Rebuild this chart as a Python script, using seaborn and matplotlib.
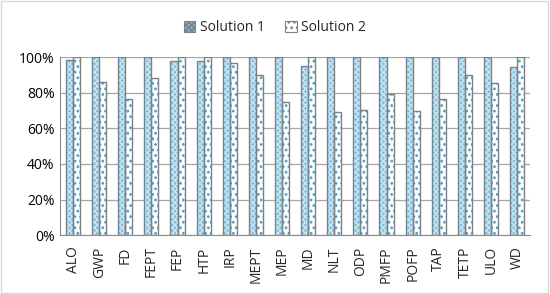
import numpy as np
import pandas as pd
import matplotlib
matplotlib.use('Agg')
import matplotlib.pyplot as plt
import seaborn as sns
from matplotlib.patches import Rectangle, Patch
from matplotlib.ticker import PercentFormatter

categories = ['ALO', 'GWP', 'FD', 'FEPT', 'FEP', 'HTP', 'IRP', 'MEPT', 'MEP',
              'MD', 'NLT', 'ODP', 'PMFP', 'POFP', 'TAP', 'TETP', 'ULO', 'WD']
solution1 = [98.5, 100, 100, 100, 97.7, 97.6, 100, 100, 100,
             95.1, 100, 100, 100, 100, 100, 100, 100, 94.2]
solution2 = [100, 86.1, 76.7, 88.2, 100, 100, 96.6, 89.9, 74.9,
             100, 69.1, 70.0, 79.2, 69.8, 76.2, 90.0, 85.7, 100]
series = ['Solution 1', 'Solution 2']

df = pd.DataFrame({
    'category': categories * 2,
    'value': solution1 + solution2,
    'series': [series[0]] * len(categories) + [series[1]] * len(categories),
})

sns.set_style('white')
plt.rcParams['font.family'] = ['Open Sans', 'DejaVu Sans']
plt.rcParams['hatch.linewidth'] = 1.2

fig = plt.figure(figsize=(5.5, 2.94), dpi=100)
ax = fig.add_axes([0.109, 0.2, 0.855, 0.606])

face = {'Solution 1': '#6cc0ea', 'Solution 2': 'white'}
hatch = {'Solution 1': 'xxxxxx', 'Solution 2': '...'}
hcol = {'Solution 1': '#bfe4f6', 'Solution 2': '#3aa6dd'}
outline = '#808080'

sns.barplot(data=df, x='category', y='value', hue='series', order=categories,
            hue_order=series, palette=face, width=0.54, legend=False, ax=ax,
            zorder=2)

for cont, s in zip(ax.containers, series):
    for p in cont:
        p.set_hatch(hatch[s])
        p.set_edgecolor(hcol[s])
        p.set_linewidth(0)
        ax.add_patch(Rectangle(p.get_xy(), p.get_width(), p.get_height(),
                               fill=False, edgecolor=outline, lw=1.0, zorder=3))

ax.set_ylim(0, 100)
ax.set_xlim(-0.5, len(categories) - 0.5)
ax.set_yticks(np.arange(0, 101, 20))
ax.yaxis.set_major_formatter(PercentFormatter(decimals=0))
ax.grid(axis='y', color='#a6a6a6', lw=0.9, zorder=0)
ax.set_axisbelow(True)
ax.set_xlabel('')
ax.set_ylabel('')
for side in ['top', 'right']:
    ax.spines[side].set_visible(False)
ax.spines['left'].set_color('#8c8c8c')
ax.spines['bottom'].set_color('#8c8c8c')
ax.tick_params(axis='y', labelsize=10, length=0, pad=4, colors='black')
ax.set_xticks(np.arange(len(categories)))
ax.set_xticklabels(categories, rotation=90, fontsize=10)
ax.tick_params(axis='x', length=0, pad=8)
# tick marks between categories like the original
ax.set_xticks(np.arange(len(categories) + 1) - 0.5, minor=True)
ax.tick_params(axis='x', which='minor', length=5, color='#8c8c8c', direction='out')

handles = [Patch(facecolor=face[s], edgecolor=outline, hatch=hatch[s], lw=0.8)
           for s in series]
fig.legend(handles, series, loc='center', bbox_to_anchor=(0.5, 0.905), ncol=2,
           frameon=False, fontsize=10, handlelength=0.8, handleheight=0.8,
           handletextpad=0.3, columnspacing=1.5)

fig.patches.append(Rectangle((0.002, 0.003), 0.995, 0.994, transform=fig.transFigure,
                             fill=False, edgecolor='#d9d9d9', lw=1))

fig.savefig('out.png', dpi=100)
